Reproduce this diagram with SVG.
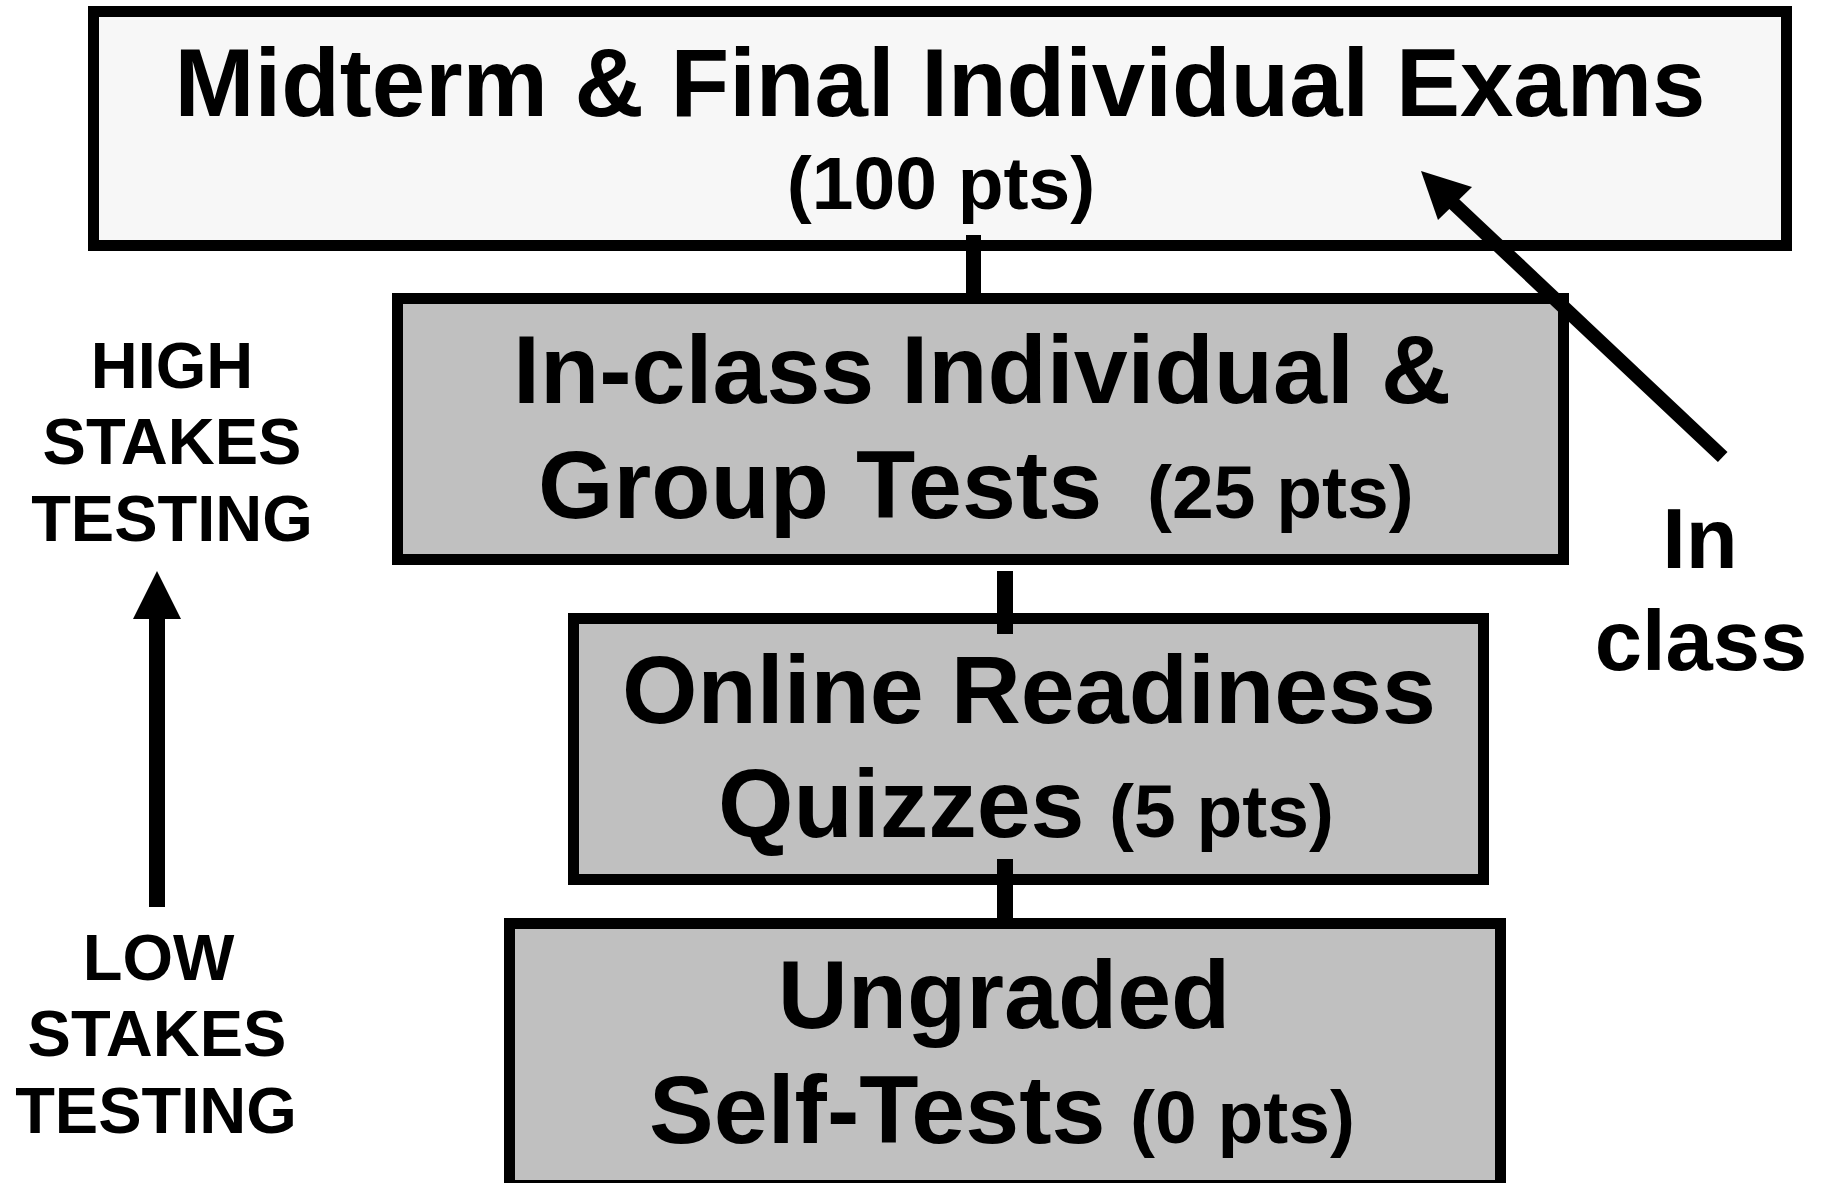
<svg xmlns="http://www.w3.org/2000/svg" width="1825" height="1183" viewBox="0 0 1825 1183">
  <style>
    .box { stroke: #000; stroke-width: 11; }
    .light { fill: #f7f7f7; }
    .gray { fill: #c0c0c0; }
    text { font-family: "Liberation Sans", Arial, sans-serif; font-weight: bold; fill: #000; }
    .big { font-size: 97px; }
    .top { font-size: 96px; }
    .pts { font-size: 75px; }
    .side { font-size: 65px; text-anchor: middle; }
    .inclass { font-size: 85px; text-anchor: middle; }
    .mid { text-anchor: middle; }
    .conn { stroke: #000; fill: none; }
  </style>
  <rect width="1825" height="1183" fill="#fff"/>

  <g id="node-exams">
    <rect class="box light" x="93.5" y="11.5" width="1693" height="234"/>
    <text class="top mid" x="940" y="116">Midterm &amp; Final Individual Exams</text>
    <text class="pts mid" x="941" y="209">(100 pts)</text>
  </g>

  <g id="node-inclass-tests">
    <rect class="box gray" x="397.5" y="298.5" width="1166" height="261"/>
    <text class="big mid" x="982" y="403">In-class Individual &amp;</text>
    <text y="518"><tspan class="big" x="538">Group Tests</tspan><tspan class="pts" x="1147">(25 pts)</tspan></text>
  </g>

  <g id="node-quizzes">
    <rect class="box gray" x="573.5" y="618.5" width="910" height="261"/>
    <text class="big mid" x="1029" y="723">Online Readiness</text>
    <text y="837"><tspan class="big" x="718">Quizzes</tspan><tspan class="pts" x="1109">(5 pts)</tspan></text>
  </g>

  <g id="node-selftests">
    <rect class="box gray" x="509.5" y="923.5" width="991" height="262"/>
    <text class="big mid" x="1004" y="1028">Ungraded</text>
    <text y="1143"><tspan class="big" x="649">Self-Tests</tspan><tspan class="pts" x="1130">(0 pts)</tspan></text>
  </g>

  <g id="connectors">
    <line class="conn" x1="973.5" y1="235" x2="973.5" y2="296" stroke-width="15"/>
    <line class="conn" x1="1005" y1="571" x2="1005" y2="634" stroke-width="16"/>
    <line class="conn" x1="1005" y1="859" x2="1005" y2="921" stroke-width="16"/>
  </g>

  <g id="inclass-arrow">
    <line x1="1722.7" y1="457" x2="1452" y2="202" stroke="#000" stroke-width="14"/>
    <polygon points="1421,171 1472,187 1438,220" fill="#000"/>
    <text class="inclass" x="1700" y="568">In</text>
    <text class="inclass" x="1701" y="670">class</text>
  </g>

  <g id="stakes-axis">
    <rect x="149" y="615" width="16" height="292" fill="#000"/>
    <polygon points="157,571 181,619 133,619" fill="#000"/>
    <text class="side" x="172" y="388">HIGH</text>
    <text class="side" x="172" y="464">STAKES</text>
    <text class="side" x="172" y="541">TESTING</text>
    <text class="side" x="158.5" y="980">LOW</text>
    <text class="side" x="157" y="1056">STAKES</text>
    <text class="side" x="156" y="1133">TESTING</text>
  </g>
</svg>
